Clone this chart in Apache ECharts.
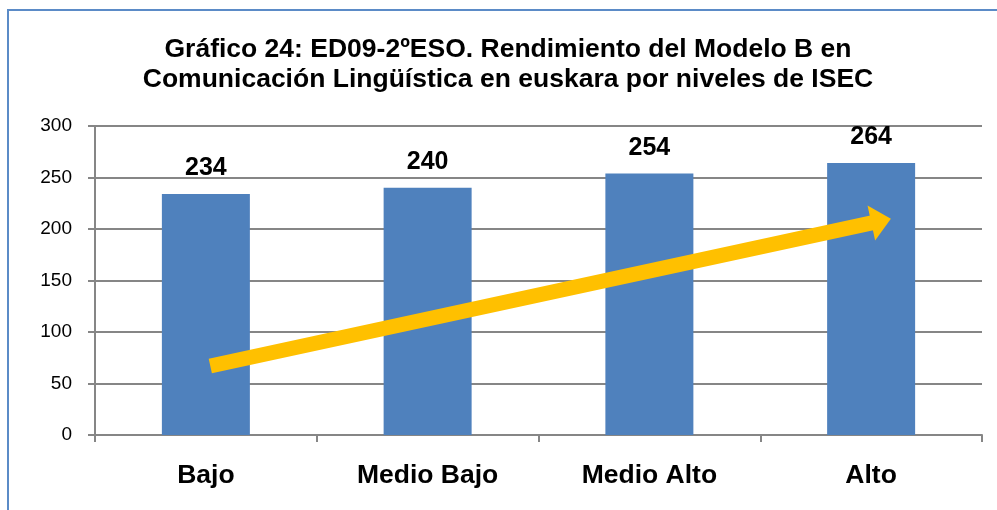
<!DOCTYPE html>
<html>
<head>
<meta charset="utf-8">
<script src="https://cdn.jsdelivr.net/npm/echarts@6/dist/echarts.min.js"></script>
<style>
  html, body { margin: 0; padding: 0; background: #fff; }
  #chart { width: 997px; height: 510px; }
</style>
</head>
<body>
<div id="chart"></div>
<script>
  const categories = ['Bajo', 'Medio Bajo', 'Medio Alto', 'Alto']
  const scores = [234, 240, 254, 264]
  const yTicks = [0, 50, 100, 150, 200, 250, 300]
  // flecha de tendencia en coordenadas de datos [posición categoría, valor]
  const trendArrow = [[0.02, 67], [3.045, 207.9]]

  const font = "'Liberation Sans', Arial, sans-serif"
  const mychart = echarts.init(document.getElementById('chart'))

  const option = {
    animation: false,
    title: {
      text: 'Gráfico 24: ED09-2ºESO. Rendimiento del Modelo B en\nComunicación Lingüística en euskara por niveles de ISEC',
      left: 503,
      textAlign: 'center',
      top: 30,
      textStyle: { fontFamily: font, fontSize: 26.5, fontWeight: 'bold', color: '#000', lineHeight: 30 }
    },
    graphic: [{
      type: 'rect',
      shape: { x: 8, y: 10, width: 1100, height: 600 },
      style: { fill: 'none', stroke: '#5b8bc7', lineWidth: 2 },
      silent: true
    }],
    grid: { left: 95, right: 15, top: 126, bottom: 75 },
    xAxis: [
      {
        type: 'category',
        data: categories,
        axisLine: { lineStyle: { color: '#868686', width: 2 } },
        axisTick: { show: true, alignWithLabel: false, length: 7, lineStyle: { color: '#868686', width: 2 } },
        axisLabel: { margin: 27, fontFamily: font, fontSize: 26.5, fontWeight: 'bold', color: '#000' }
      },
      { type: 'value', min: -0.5, max: 3.5, show: false }
    ],
    yAxis: {
      type: 'value',
      min: yTicks[0],
      max: yTicks[yTicks.length - 1],
      interval: 50,
      axisLine: { show: true, onZero: false, lineStyle: { color: '#868686', width: 2 } },
      axisTick: { show: true, length: 7, lineStyle: { color: '#868686', width: 2 } },
      splitLine: { lineStyle: { color: '#868686', width: 2 } },
      axisLabel: { margin: 23, fontFamily: font, fontSize: 19, color: '#000' }
    },
    series: [
      {
        type: 'bar',
        data: scores,
        barWidth: 88,
        itemStyle: { color: '#4F81BD' },
        label: {
          show: true,
          position: 'top',
          distance: 13,
          fontFamily: font,
          fontSize: 25,
          fontWeight: 'bold',
          color: '#000'
        }
      },
      {
        type: 'lines',
        coordinateSystem: 'cartesian2d',
        xAxisIndex: 1,
        yAxisIndex: 0,
        z: 5,
        symbol: 'none',
        lineStyle: { color: '#FFC000', width: 15, opacity: 1, cap: 'butt' },
        data: [{ coords: trendArrow }]
      },
      {
        type: 'scatter',
        xAxisIndex: 1,
        yAxisIndex: 0,
        z: 6,
        symbol: 'path://M0,20 L18,0 L36,20 Z',
        symbolSize: [36, 20],
        symbolRotate: -77.8,
        itemStyle: { color: '#FFC000', opacity: 1 },
        data: [trendArrow[1]]
      }
    ]
  }
  mychart.setOption(option)
</script>
</body>
</html>
